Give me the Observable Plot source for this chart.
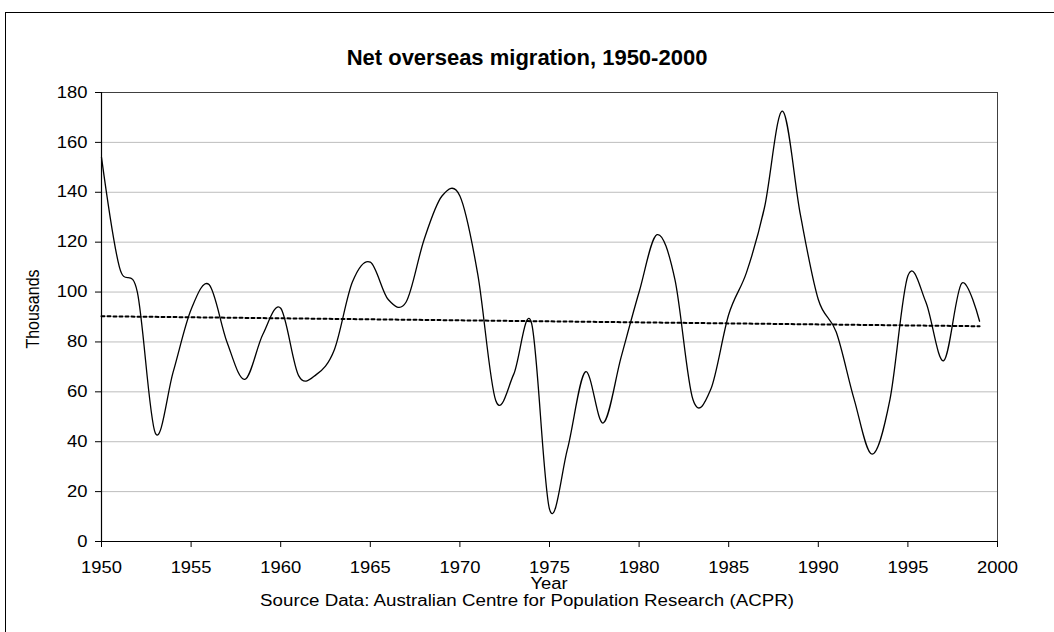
<!DOCTYPE html>
<html>
<head>
<meta charset="utf-8">
<script src="https://cdn.jsdelivr.net/npm/d3@7"></script>
<script src="https://cdn.jsdelivr.net/npm/@observablehq/plot@0.6"></script>
<style>
  body { margin: 0; background: #fff; font-family: "Liberation Sans", Arial, sans-serif; color: #000; }
  #wrap { position: relative; width: 1054px; height: 632px; overflow: hidden; background: #fff; }
  #chart { position: absolute; left: 0; top: 0; }
  #border { position: absolute; left: 5px; top: 12px; width: 1100px; height: 700px; border: 1.5px solid #000; pointer-events: none; }
  #title { position: absolute; left: 0; top: 47px; width: 1054px; text-align: center; font-weight: bold; font-size: 22px; line-height: 22px; }
  #xlabel { position: absolute; left: 449px; top: 576px; width: 200px; text-align: center; font-size: 16px; line-height: 15px; transform: scaleX(1.15); }
  #ylabel { position: absolute; left: -67px; top: 301px; width: 200px; text-align: center; font-size: 16px; line-height: 16px; transform: rotate(-90deg) scale(1, 1.15); }
  #source { position: absolute; left: 0; top: 593px; width: 1054px; text-align: center; font-size: 16px; line-height: 15px; transform: scaleX(1.17); }
</style>
</head>
<body>
<div id="wrap">
  <div id="chart"></div>
  <div id="title">Net overseas migration, 1950-2000</div>
  <div id="ylabel">Thousands</div>
  <div id="xlabel">Year</div>
  <div id="source">Source Data: Australian Centre for Population Research (ACPR)</div>
  <div id="border"></div>
</div>
<script>
// Data
const years = [1950,1951,1952,1953,1954,1955,1956,1957,1958,1959,
               1960,1961,1962,1963,1964,1965,1966,1967,1968,1969,
               1970,1971,1972,1973,1974,1975,1976,1977,1978,1979,
               1980,1981,1982,1983,1984,1985,1986,1987,1988,1989,
               1990,1991,1992,1993,1994,1995,1996,1997,1998,1999];
const migration = [154,110,100,43.5,68,93,103,80,65,83,
                   93.5,66.5,67,77,104,112,97,96,121,138.5,
                   138.5,107,56.5,67,87.5,13,37,68,47.5,74,
                   100,123,105,57,61,91,108,134,172.5,131,
                   97,84,57,35,57,106.5,96,72.5,103.5,88.3];
const trendYears = [1950, 1999];
const trendValues = [90.3, 86.3];
const xTicks = [1950,1955,1960,1965,1970,1975,1980,1985,1990,1995,2000];
const yTicks = [0,20,40,60,80,100,120,140,160,180];
const gridTicks = [20,40,60,80,100,120,140,160];

const series = years.map((y, i) => ({year: y, value: migration[i]}));
const trend = trendYears.map((y, i) => ({year: y, value: trendValues[i]}));

const chart = Plot.plot({
  width: 1054,
  height: 632,
  marginLeft: 101,
  marginRight: 57,
  marginTop: 92,
  marginBottom: 91,
  style: {fontFamily: "'Liberation Sans', Arial, sans-serif", fontSize: "16px", color: "#000", background: "transparent"},
  x: {domain: [1950, 2000]},
  y: {domain: [0, 180]},
  marks: [
    Plot.gridY(gridTicks, {stroke: "#bdbdbd", strokeOpacity: 1, strokeWidth: 1}),
    Plot.frame({stroke: "#404040", strokeWidth: 1}),
    Plot.axisX(xTicks, {tickSize: 6, tickPadding: 14, fontSize: 16, label: null, tickFormat: d => String(d)}),
    Plot.axisY(yTicks, {tickSize: 6, tickPadding: 8, fontSize: 16, label: null, tickFormat: d => String(d)}),
    Plot.ruleX([1950], {stroke: "#000", strokeWidth: 1.2}),
    Plot.ruleY([0], {stroke: "#000", strokeWidth: 1.2}),
    Plot.line(trend, {x: "year", y: "value", stroke: "#000", strokeWidth: 2, strokeDasharray: "3,3"}),
    Plot.line(series, {x: "year", y: "value", curve: "cardinal", stroke: "#000", strokeWidth: 1.3})
  ]
});
// widen tick labels slightly, as in the reference
chart.querySelectorAll("text").forEach(t => {
  const tr = t.getAttribute("transform");
  if (tr) {
    t.setAttribute("transform", tr + " scale(1.15,1)");
  } else {
    const x = +(t.getAttribute("x") || 0);
    t.setAttribute("transform", `translate(${x},0) scale(1.15,1) translate(${-x},0)`);
  }
});
document.getElementById("chart").appendChild(chart);
</script>
</body>
</html>
